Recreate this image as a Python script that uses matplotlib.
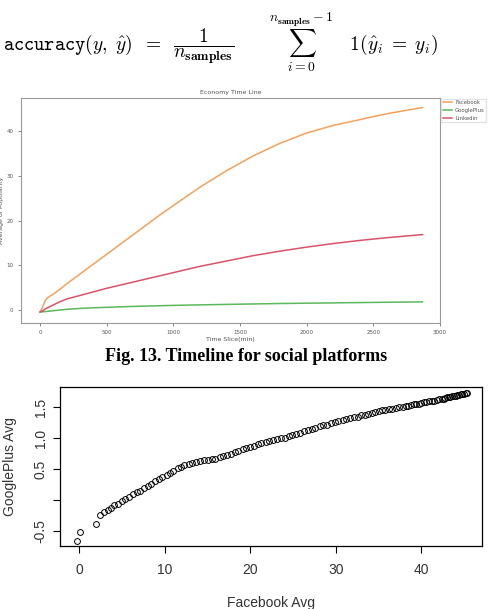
import matplotlib
matplotlib.use('Agg')
from matplotlib import pyplot as plt

plt.rcParams['mathtext.fontset'] = 'cm'

# serie danych - wykres czasowy
time_slice = [0, 20, 40, 60, 100, 150, 200, 300, 400, 500, 600, 700, 800, 900,
              1000, 1200, 1400, 1600, 1800, 2000, 2200, 2400, 2600, 2870]
facebook = [-0.4, 0.8, 2.2, 2.9, 3.6, 4.7, 5.9, 8.1, 10.3, 12.5, 14.7, 16.9, 19.1, 21.3,
            23.4, 27.5, 31.2, 34.5, 37.3, 39.6, 41.3, 42.6, 43.9, 45.3]
googleplus = [-0.4, -0.35, -0.3, -0.25, -0.1, 0.05, 0.2, 0.4, 0.55, 0.65, 0.75, 0.85, 0.93, 1.0,
              1.08, 1.2, 1.3, 1.4, 1.5, 1.57, 1.64, 1.71, 1.78, 1.86]
linkedin = [-0.4, -0.1, 0.3, 0.6, 1.2, 1.9, 2.5, 3.3, 4.1, 4.9, 5.6, 6.3, 7.0, 7.7,
            8.4, 9.8, 11.0, 12.2, 13.2, 14.1, 14.9, 15.6, 16.2, 16.9]
series_names = ['Facebook', 'GooglePlus', 'Linkedin']
series_colors = ['#f2a25c', '#5cb85c', '#d9536a']

# serie danych - wykres punktowy
fb_avg = [-0.3, 0.1, 2.0, 2.4, 2.9, 3.3, 3.7, 4.1, 4.5, 5.0,
          5.4, 5.8, 6.3, 6.7, 7.1, 7.6, 8.0, 8.4, 8.9, 9.3,
          9.7, 10.2, 10.6, 11.0, 11.5, 11.9, 12.3, 12.8, 13.2, 13.7,
          14.1, 14.6, 15.0, 15.5, 15.9, 16.4, 16.8, 17.3, 17.7, 18.2,
          18.6, 19.1, 19.5, 20.0, 20.4, 20.9, 21.3, 21.8, 22.2, 22.7,
          23.1, 23.6, 24.0, 24.5, 24.9, 25.4, 25.8, 26.3, 26.7, 27.2,
          27.6, 28.1, 28.5, 29.0, 29.4, 29.9, 30.3, 30.8, 31.2, 31.7,
          32.1, 32.6, 33.0, 33.4, 33.8, 34.2, 34.6, 35.0, 35.4, 35.8,
          36.2, 36.6, 37.0, 37.4, 37.8, 38.2, 38.5, 38.8, 39.1, 39.4,
          39.7, 40.0, 40.3, 40.6, 40.9, 41.2, 41.5, 41.8, 42.1, 42.4,
          42.6, 42.8, 43.0, 43.2, 43.4, 43.6, 43.8, 44.0, 44.2, 44.4,
          44.6, 44.8, 45.0, 45.2, 45.3]
gp_avg = [-0.67, -0.52, -0.40, -0.24, -0.20, -0.16, -0.13, -0.09, -0.06, -0.02,
          0.02, 0.05, 0.09, 0.12, 0.15, 0.19, 0.22, 0.26, 0.30, 0.33,
          0.37, 0.41, 0.44, 0.47, 0.51, 0.54, 0.56, 0.58, 0.60, 0.62,
          0.63, 0.64, 0.65, 0.66, 0.67, 0.69, 0.71, 0.73, 0.75, 0.77,
          0.79, 0.82, 0.84, 0.86, 0.88, 0.90, 0.92, 0.94, 0.95, 0.97,
          0.98, 1.00, 1.01, 1.03, 1.05, 1.07, 1.09, 1.11, 1.13, 1.15,
          1.17, 1.19, 1.21, 1.22, 1.24, 1.26, 1.28, 1.29, 1.31, 1.32,
          1.34, 1.35, 1.37, 1.38, 1.40, 1.41, 1.42, 1.44, 1.45, 1.46,
          1.47, 1.48, 1.49, 1.50, 1.51, 1.52, 1.53, 1.54, 1.55, 1.56,
          1.56, 1.57, 1.58, 1.59, 1.60, 1.61, 1.61, 1.62, 1.63, 1.64,
          1.64, 1.65, 1.66, 1.66, 1.67, 1.68, 1.68, 1.69, 1.70, 1.70,
          1.71, 1.72, 1.72, 1.73, 1.74]
scatter_yticks = [-0.5, 0.0, 0.5, 1.0, 1.5]
scatter_ylabels = ['-0.5', '', '0.5', '1.0', '1.5']
scatter_xticks = [0, 10, 20, 30, 40]

fig = plt.figure(figsize=(4.91, 6.09), dpi=100)

# wzor
fig.text(0.006, 0.930,
         r'$\mathtt{accuracy}(y,\;\hat{y})\;\;=\;\;\dfrac{1}{n_{\mathbf{samples}}}\qquad'
         r'\sum_{i=0}^{n_{\mathbf{samples}}-1}\quad 1(\hat{y}_i\;=\;y_i)$',
         fontsize=14, va='center', ha='left')

# wykres czasowy
ax1 = fig.add_axes([0.0428, 0.4704, 0.853, 0.3692])
for vals, name, col in zip([facebook, googleplus, linkedin], series_names, series_colors):
    ax1.plot(time_slice, vals, color=col, lw=1.1, label=name)
ax1.set_xlim(-143, 3000)
ax1.set_ylim(-2.75, 47.5)
ax1.set_xticks([0, 500, 1000, 1500, 2000, 2500, 3000])
ax1.set_yticks([0, 10, 20, 30, 40])
ax1.tick_params(labelsize=4, colors='#555555', length=2, width=0.5)
for s in ax1.spines.values():
    s.set_color('#999999')
    s.set_linewidth(0.8)
ax1.set_title('Economy Time Line', fontsize=4.5, color='#555555', pad=3)
ax1.set_xlabel('Time Slice(min)', fontsize=4.5, color='#555555', labelpad=1)
ax1.set_ylabel('Average of Popularity', fontsize=4.5, color='#555555', labelpad=2)
leg = ax1.legend(loc='upper left', bbox_to_anchor=(1.0, 1.0), fontsize=3.9,
                 frameon=True, fancybox=False, edgecolor='#dddddd',
                 handlelength=1.8, handletextpad=0.5, borderpad=0.3,
                 borderaxespad=0.2, labelspacing=0.5)
for t in leg.get_texts():
    t.set_color('#555555')

# podpis
fig.text(0.502, 0.4138, 'Fig. 13. Timeline for social platforms',
         family='Liberation Serif', weight='bold', fontsize=13,
         ha='center', va='center')

# wykres punktowy
ax2 = fig.add_axes([0.1222, 0.1034, 0.8595, 0.2611])
ax2.plot(fb_avg, gp_avg, 'o', mfc='none', mec='black', ms=4.2, mew=0.7)
ax2.set_xlim(-2.26, 47.1)
ax2.set_ylim(-0.75, 1.83)
ax2.set_xticks(scatter_xticks)
ax2.set_yticks(scatter_yticks)
ax2.set_yticklabels(scatter_ylabels, rotation=90, va='center')
ax2.tick_params(labelsize=10, length=5, width=0.8, pad=4, labelcolor='#333333')
ax2.tick_params(axis='x', pad=7)
for lab in ax2.get_xticklabels() + ax2.get_yticklabels():
    lab.set_family('Liberation Sans')
for s in ax2.spines.values():
    s.set_linewidth(0.9)
ax2.set_xlabel('Facebook Avg', family='Liberation Sans', fontsize=10, color='#333333', labelpad=14)
ax2.set_ylabel('GooglePlus Avg', family='Liberation Sans', fontsize=10, color='#333333', labelpad=12)

plt.savefig('out.png', dpi=100)
